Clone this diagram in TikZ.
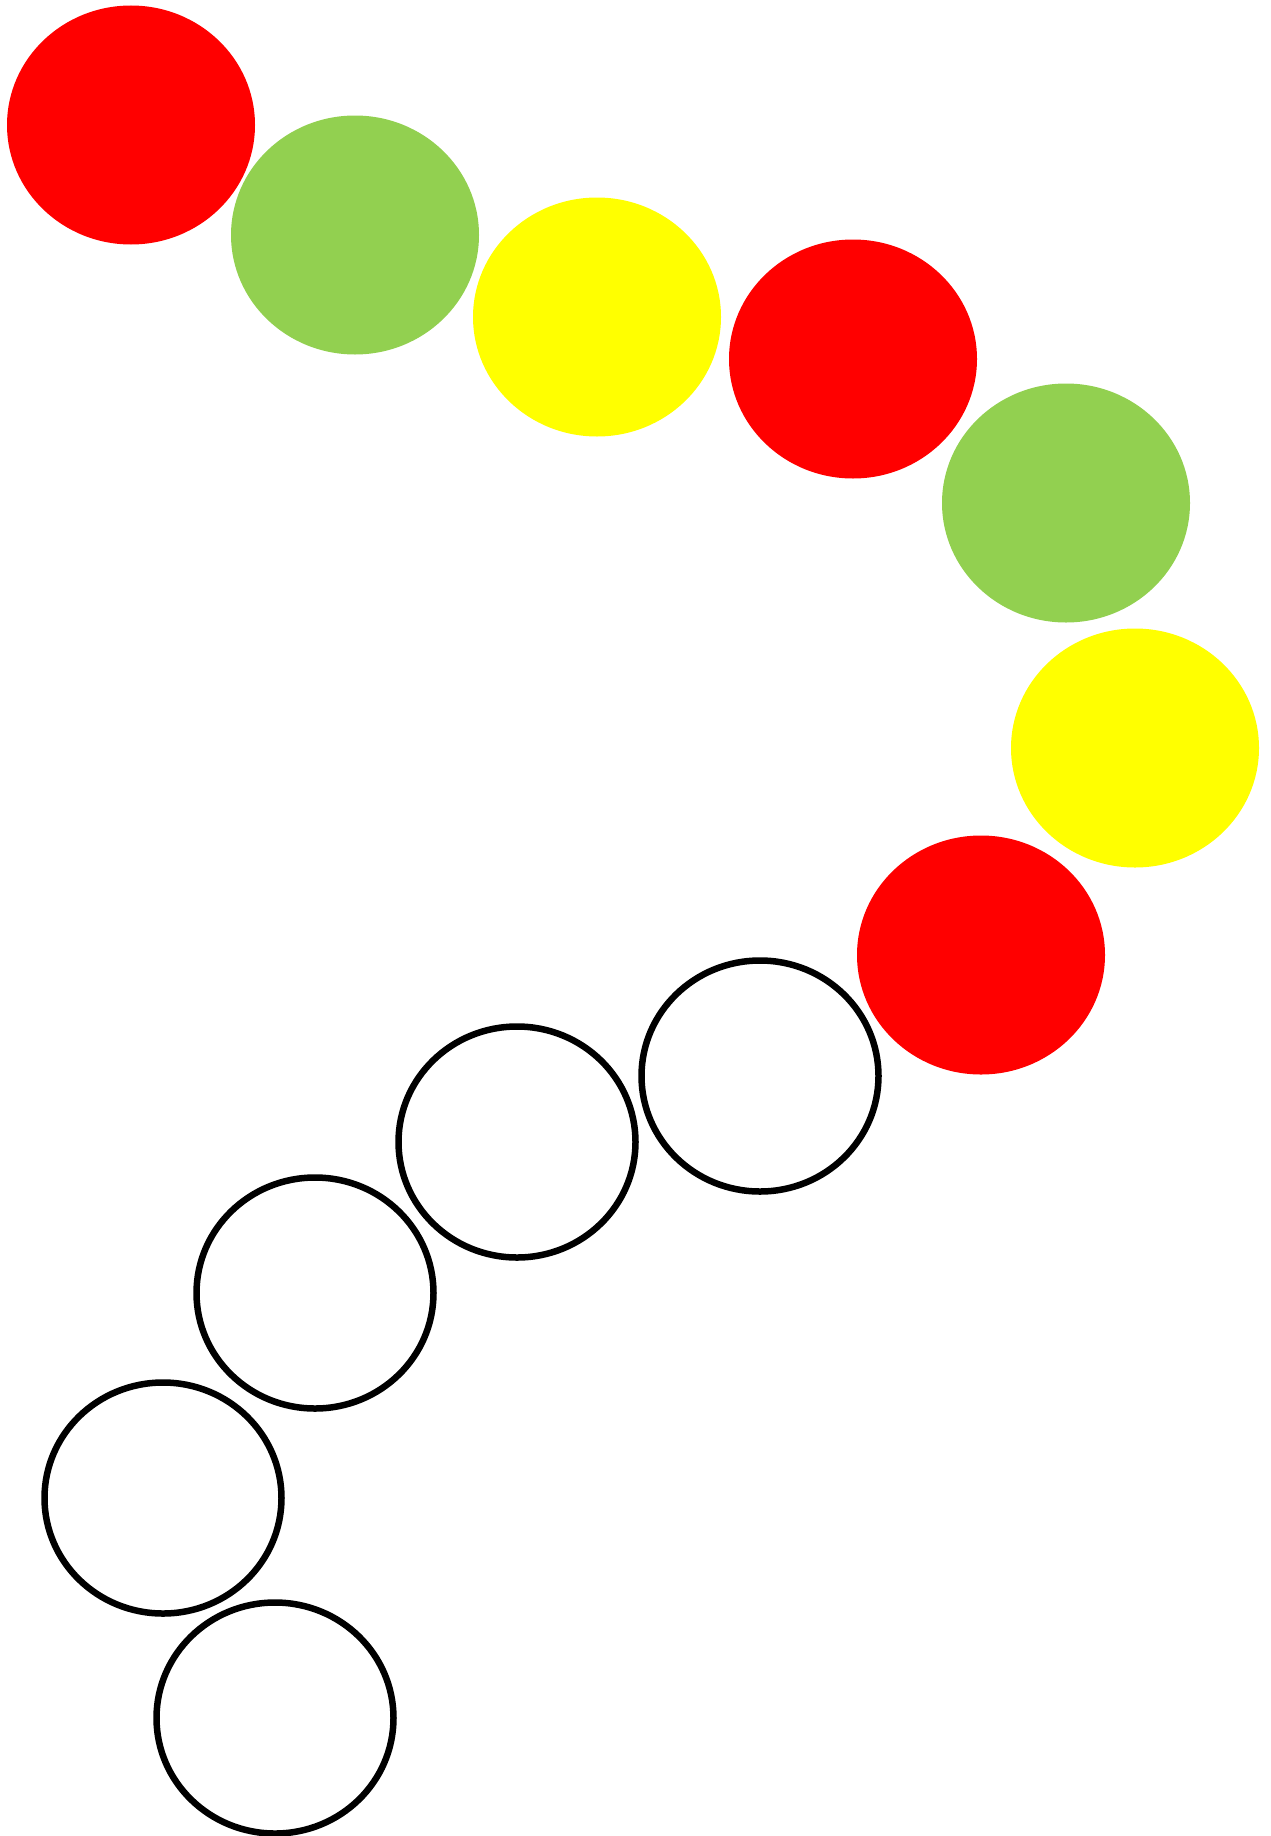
\documentclass[tikz,border=0pt]{standalone}
\usetikzlibrary{shapes.geometric}
\definecolor{cred}{HTML}{FF0000}
\definecolor{cgreen}{HTML}{92D050}
\definecolor{cyellow}{HTML}{FFFF00}
\tikzset{
  fillbead/.style={ellipse, inner sep=0pt, minimum width=248pt, minimum height=239pt, draw=none},
  openbead/.style={ellipse, inner sep=0pt, minimum width=237pt, minimum height=231pt, draw=black, line width=6.5pt, fill=white}
}
\begin{document}
\begin{tikzpicture}[x=1pt,y=-1pt]
\useasboundingbox (0,0) rectangle (1270,1836);
\node[fillbead, fill=cred] (b1) at (131,125) {};
\node[fillbead, fill=cgreen] (b2) at (355,235) {};
\node[fillbead, fill=cyellow] (b3) at (597,317) {};
\node[fillbead, fill=cred] (b4) at (853,359) {};
\node[fillbead, fill=cgreen] (b5) at (1066,503) {};
\node[fillbead, fill=cyellow] (b6) at (1135,748) {};
\node[fillbead, fill=cred] (b7) at (981,955) {};
\node[openbead] (b8) at (760,1076) {};
\node[openbead] (b9) at (517,1142) {};
\node[openbead] (b10) at (315,1293) {};
\node[openbead] (b11) at (163,1498) {};
\node[openbead] (b12) at (275,1718) {};
\end{tikzpicture}
\end{document}
